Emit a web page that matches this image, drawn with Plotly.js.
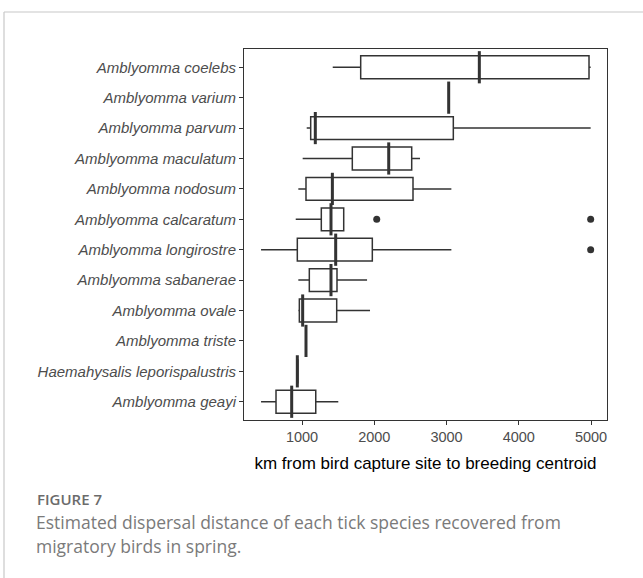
<!DOCTYPE html>
<html>
<head>
<meta charset="utf-8">
<script src="https://cdn.plot.ly/plotly-3.0.1.min.js"></script>
<style>
  html, body { margin: 0; padding: 0; background: #fff; }
  #chart { width: 643px; height: 578px; }
</style>
</head>
<body>
<div id="chart"></div>
<script>
// Species, top to bottom
const species = [
  "Amblyomma coelebs",
  "Amblyomma varium",
  "Amblyomma parvum",
  "Amblyomma maculatum",
  "Amblyomma nodosum",
  "Amblyomma calcaratum",
  "Amblyomma longirostre",
  "Amblyomma sabanerae",
  "Amblyomma ovale",
  "Amblyomma triste",
  "Haemahysalis leporispalustris",
  "Amblyomma geayi"
];
// Box statistics (km)
const lowerWhisker = [1425, 3030, 1065, 1009,  949,  913,  433,  949,  949, 1055, 925,  433];
const q1           = [1812, 3030, 1120, 1696, 1055, 1267,  935, 1101,  963, 1055, 928,  640];
const median       = [3454, 3030, 1184, 2200, 1420, 1401, 1466, 1401, 1009, 1055, 935,  857];
const q3           = [4972, 3030, 3094, 2518, 2536, 1577, 1973, 1484, 1480, 1055, 942, 1190];
const upperWhisker = [4995, 3030, 4995, 2633, 3067, 1577, 3067, 1900, 1941, 1055, 945, 1502];
// Outliers
const outlierSpecies = ["Amblyomma calcaratum", "Amblyomma calcaratum", "Amblyomma longirostre"];
const outlierValues  = [2034, 4995, 4995];

const xTicks = [1000, 2000, 3000, 4000, 5000];

const captionLabel = "FIGURE 7";
const captionLines = [
  "Estimated dispersal distance of each tick species recovered from",
  "migratory birds in spring."
];

const dark = "#333333";

const boxTrace = {
  type: "box",
  orientation: "h",
  y: species,
  q1: q1,
  median: median,
  q3: q3,
  lowerfence: lowerWhisker,
  upperfence: upperWhisker,
  boxpoints: false,
  width: 0.75,
  fillcolor: "#ffffff",
  line: { color: dark, width: 1.5 },
  whiskerwidth: 0,
  hoverinfo: "skip",
  showlegend: false
};

const medianTrace = {
  type: "scatter",
  mode: "markers",
  x: median,
  y: species,
  marker: { symbol: "line-ns", size: 23, color: dark, line: { color: dark, width: 3 } },
  hoverinfo: "skip",
  showlegend: false
};

const outlierTrace = {
  type: "scatter",
  mode: "markers",
  x: outlierValues,
  y: outlierSpecies,
  marker: { symbol: "circle", size: 7, color: dark },
  hoverinfo: "skip",
  showlegend: false
};

// pixel -> paper helpers for the frame/caption (plot area: x 244..607, y 49..420)
const px = v => (v - 244) / 363;
const py = v => (420 - v) / 371;

const annotations = [
  { text: captionLabel, xref: "paper", yref: "paper", x: px(35), y: py(499),
    xanchor: "left", yanchor: "middle", showarrow: false, align: "left",
    font: { family: "Open Sans, sans-serif", size: 15, color: "#6b6b6b", weight: 600 } }
];
captionLines.forEach((t, i) => {
  annotations.push({ text: t, xref: "paper", yref: "paper", x: px(34), y: py(522 + i * 24),
    xanchor: "left", yanchor: "middle", showarrow: false, align: "left",
    font: { family: "Open Sans, sans-serif", size: 17.5, color: "#7a7a7a" } });
});

const layout = {
  width: 643,
  height: 578,
  margin: { l: 244, r: 36, t: 49, b: 158, pad: 0 },
  paper_bgcolor: "#ffffff",
  plot_bgcolor: "#ffffff",
  font: { family: "Liberation Sans, Arial, sans-serif" },
  xaxis: {
    range: [197, 5221],
    tickvals: xTicks,
    ticktext: xTicks.map(String),
    showgrid: false,
    zeroline: false,
    showline: true,
    mirror: true,
    linecolor: dark,
    linewidth: 1,
    ticks: "outside",
    ticklen: 4,
    tickwidth: 1,
    tickcolor: dark,
    tickfont: { family: "Liberation Sans, Arial, sans-serif", size: 14.5, color: "#4d4d4d" },
    title: {
      text: "km from bird capture site to breeding centroid",
      font: { family: "Liberation Sans, Arial, sans-serif", size: 17, color: "#000000" },
      standoff: 12
    }
  },
  yaxis: {
    type: "category",
    categoryorder: "array",
    categoryarray: species,
    range: [11.6, -0.6],
    showgrid: false,
    zeroline: false,
    showline: true,
    mirror: true,
    linecolor: dark,
    linewidth: 1,
    ticks: "outside",
    ticklen: 4,
    tickwidth: 1,
    tickcolor: dark,
    tickfont: { family: "Liberation Sans, Arial, sans-serif", size: 15, color: "#4d4d4d", style: "italic" }
  },
  shapes: [
    { type: "line", xref: "paper", yref: "paper", x0: px(4), x1: px(650),
      y0: py(12), y1: py(12), line: { color: "#c8c8c8", width: 1.2 } },
    { type: "line", xref: "paper", yref: "paper", x0: px(4), x1: px(4),
      y0: py(12), y1: py(600), line: { color: "#c8c8c8", width: 1.2 } }
  ],
  annotations: annotations
};

Plotly.newPlot("chart", [boxTrace, medianTrace, outlierTrace], layout, { displayModeBar: false, staticPlot: true });
</script>
</body>
</html>
